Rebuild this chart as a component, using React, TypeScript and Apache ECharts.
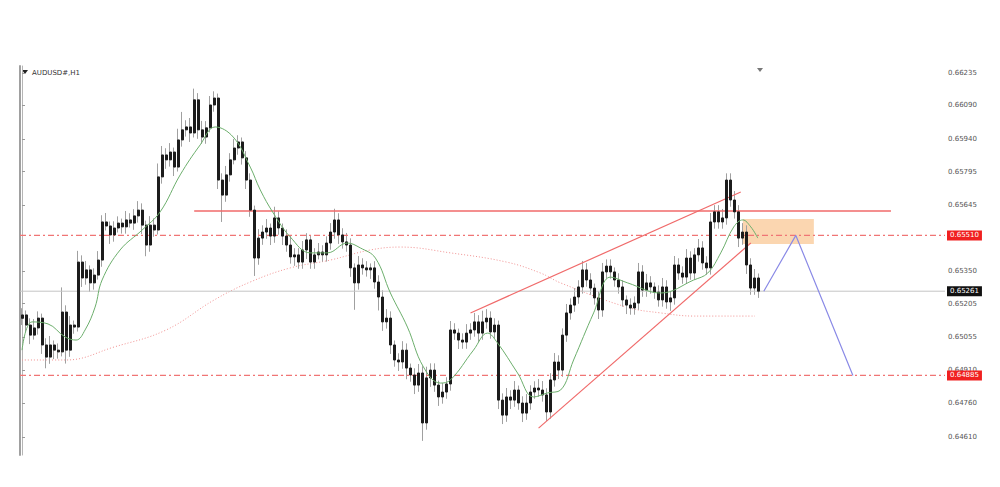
import React, { useEffect, useRef } from "react";
import * as echarts from "echarts";

// ---- Data (AUDUSD#, H1) ----
const symbolLabel = "AUDUSD#,H1";
const firstOpen = 0.6514;
const closes = [
  0.65155, 0.6511, 0.65065, 0.65097, 0.65141, 0.65021, 0.64967, 0.65021, 0.64998, 0.6499,
  0.65168, 0.64998, 0.6511, 0.65101, 0.65391, 0.6532, 0.65356, 0.65298, 0.65333, 0.654,
  0.6557, 0.65552, 0.65512, 0.65543, 0.65565, 0.65548, 0.65579, 0.65565, 0.65597, 0.65623,
  0.65556, 0.65467, 0.65556, 0.65534, 0.65771, 0.65869, 0.65847, 0.65882, 0.65815, 0.65936,
  0.65981, 0.65994, 0.65967, 0.66115, 0.65981, 0.65949, 0.6599, 0.66092, 0.66123, 0.65757,
  0.6569, 0.6578, 0.65847, 0.659, 0.65927, 0.65856, 0.65757, 0.65623, 0.65409, 0.65498,
  0.65525, 0.65543, 0.65507, 0.65588, 0.65543, 0.65507, 0.65467, 0.65414, 0.65423, 0.65391,
  0.65445, 0.6549, 0.65391, 0.65423, 0.65436, 0.65423, 0.65476, 0.65525, 0.65579, 0.65512,
  0.65481, 0.65467, 0.65365, 0.65298, 0.65378, 0.65365, 0.65356, 0.65365, 0.65302, 0.65235,
  0.65124, 0.65141, 0.65021, 0.64954, 0.64945, 0.64998, 0.64918, 0.64887, 0.64842, 0.64896,
  0.64673, 0.64874, 0.64909, 0.64842, 0.64789, 0.64811, 0.64847, 0.65088, 0.65074, 0.65043,
  0.65034, 0.65074, 0.65088, 0.65124, 0.65074, 0.65124, 0.65141, 0.65079, 0.6511, 0.64775,
  0.64708, 0.64789, 0.64775, 0.6482, 0.64762, 0.64717, 0.64762, 0.64811, 0.64829, 0.6482,
  0.64798, 0.64722, 0.64865, 0.64945, 0.64909, 0.65065, 0.65164, 0.65199, 0.65235, 0.6528,
  0.65356, 0.65311, 0.65275, 0.65231, 0.65177, 0.65347, 0.65373, 0.65347, 0.65311, 0.6528,
  0.65222, 0.65199, 0.65186, 0.65208, 0.65347, 0.65266, 0.65298, 0.6528, 0.65257, 0.65222,
  0.6528, 0.65213, 0.65231, 0.65378, 0.65342, 0.65324, 0.65409, 0.65342, 0.65423, 0.65454,
  0.65387, 0.65365, 0.6557, 0.65615, 0.6557, 0.65588, 0.65757, 0.65668, 0.65615, 0.65498,
  0.65525, 0.65378, 0.65275, 0.6532, 0.65261,
];
// wick lengths beyond the body, in pips
const wickUp = [
  3, 2, 3, 4, 3, 2, 3, 4, 2, 3,
  11, 3, 4, 2, 5, 3, 4, 2, 3, 4,
  3, 4, 2, 3, 3, 2, 4, 3, 3, 4,
  3, 2, 4, 3, 6, 4, 3, 4, 2, 5,
  8, 3, 4, 5, 3, 4, 3, 4, 3, 2,
  3, 4, 3, 4, 3, 2, 3, 3, 2, 4,
  3, 4, 2, 5, 3, 2, 3, 4, 3, 3,
  4, 3, 2, 3, 4, 3, 3, 4, 5, 3,
  3, 4, 3, 2, 4, 3, 3, 2, 3, 3,
  3, 4, 3, 2, 3, 4, 3, 2, 3, 4,
  3, 5, 3, 3, 2, 4, 3, 4, 3, 2,
  3, 4, 3, 4, 3, 5, 4, 3, 3, 2,
  3, 4, 3, 4, 2, 3, 4, 3, 3, 4,
  4, 3, 3, 4, 3, 3, 4, 3, 4, 3,
  4, 3, 3, 2, 3, 4, 3, 3, 2, 3,
  3, 2, 3, 3, 4, 3, 4, 3, 2, 3,
  4, 3, 3, 4, 3, 3, 4, 3, 3, 4,
  3, 3, 4, 3, 3, 4, 3, 3, 4, 3,
  4, 3, 3, 4, 2,
];
const wickDown = [
  3, 3, 4, 2, 3, 4, 5, 3, 4, 3,
  2, 6, 3, 3, 2, 4, 3, 4, 3, 2,
  3, 2, 4, 3, 2, 3, 3, 2, 3, 3,
  4, 5, 3, 3, 2, 3, 4, 3, 4, 2,
  3, 3, 4, 2, 4, 3, 3, 2, 3, 4,
  12, 3, 3, 2, 3, 3, 4, 3, 8, 3,
  3, 3, 4, 3, 3, 4, 3, 3, 4, 3,
  3, 4, 3, 3, 2, 3, 3, 3, 3, 4,
  3, 3, 4, 12, 3, 3, 3, 4, 3, 6,
  4, 3, 4, 3, 4, 3, 5, 3, 4, 3,
  8, 3, 4, 3, 4, 3, 3, 3, 3, 4,
  3, 3, 3, 3, 4, 3, 3, 3, 3, 4,
  4, 3, 4, 3, 3, 4, 3, 3, 3, 3,
  3, 4, 3, 3, 4, 3, 3, 3, 3, 3,
  3, 3, 3, 3, 4, 3, 3, 3, 3, 3,
  3, 4, 3, 3, 3, 3, 3, 3, 3, 3,
  3, 3, 4, 3, 3, 3, 3, 3, 3, 3,
  3, 3, 3, 3, 3, 3, 3, 3, 3, 4,
  3, 4, 3, 3, 3,
];
const slotCount = 231; // bar slots on the time axis (incl. empty shift area)
const priceMin = 0.6453;
const priceMax = 0.66266;
const priceTicks = [0.66235, 0.6609, 0.6594, 0.65795, 0.65645, 0.6535, 0.65205, 0.65055, 0.6491, 0.6476, 0.6461];

// moving averages: [bar index, price]
const fastMA = [
  [0, 0.64998], [2.5, 0.65124], [6.5, 0.65115], [10.75, 0.65057], [13.5, 0.65043], [15.75, 0.65088],
  [18.25, 0.6519], [20, 0.65311], [24.5, 0.65445], [30, 0.65534], [34.5, 0.65615], [39.5, 0.6578],
  [44.5, 0.65914], [48.25, 0.65994], [52.75, 0.65949], [57, 0.65815], [59.5, 0.65713], [62.75, 0.6561],
  [67, 0.65503], [72, 0.65432], [76.25, 0.65432], [81.25, 0.65476], [84.5, 0.65454], [88.25, 0.65409],
  [92, 0.65253], [96.25, 0.65101], [100.25, 0.64923], [104.5, 0.64851], [107, 0.64865], [112.75, 0.64998],
  [116.25, 0.65074], [118.75, 0.6503], [123.75, 0.64896], [127.75, 0.64789], [131.25, 0.64807], [134.5, 0.6482],
  [137.75, 0.64954], [142.75, 0.65164], [147, 0.65324], [151.25, 0.65298], [159.5, 0.65253], [167.75, 0.65311],
  [171.25, 0.65342], [174.5, 0.65432], [177.75, 0.65548], [180, 0.65579], [182, 0.65548], [183.75, 0.65498],
];
const slowMA = [
  [0, 0.64954], [11, 0.64954], [23, 0.65012], [36, 0.65088], [48, 0.65222], [57, 0.65302], [67, 0.65365],
  [77, 0.654], [87, 0.65445], [94.5, 0.65458], [107, 0.65432], [121, 0.65391], [129.5, 0.65342],
  [134.5, 0.65298], [151, 0.6519], [159.5, 0.65164], [168, 0.6515], [183, 0.6515],
];

// drawn objects
const resistanceLine = [[43, 0.65619], [217, 0.65619]];
const wedgeUpper = [[112, 0.65164], [179.5, 0.65704]];
const wedgeLower = [[129, 0.6465], [182, 0.65476]];
const supplyZone = [[180, 0.65583], [197.75, 0.65472]];
const projection = [[185.25, 0.65261], [193.25, 0.6551], [207.5, 0.64885]];
const levelUpper = 0.6551;
const levelLower = 0.64885;
const lastPrice = 0.65261;

const pip = 0.0001;

export default function App() {
  const ref = useRef<HTMLDivElement>(null);
  useEffect(() => {
    if (!ref.current) return;
    const chart = echarts.init(ref.current, undefined, { renderer: "svg" });
    const opens = closes.map((c, i) => (i === 0 ? firstOpen : closes[i - 1]));
    const full = closes.map((c, i) => {
      const o = opens[i];
      return [o, c, Math.min(o, c) - wickDown[i] * pip, Math.max(o, c) + wickUp[i] * pip];
    });
    const bodies = closes.map((c, i) => {
      const o = opens[i];
      return [o, c, Math.min(o, c), Math.max(o, c)];
    });
    const categories = Array.from({ length: slotCount }, (_, i) => String(i));
    const xFrom = -0.5;
    const xTo = slotCount - 0.5;
    const font = "DejaVu Sans";
    const priceLabel = (bg: string) => ({
      show: true,
      position: "end",
      distance: 2,
      formatter: (p: any) => Number(p.value).toFixed(5),
      backgroundColor: bg,
      color: "#ffffff",
      fontSize: 7,
      fontFamily: font,
      padding: [2, 3, 1, 3],
    });
    const levelSeries = (name: string, price: number, color: string, dash: any, width: number) => ({
      type: "line",
      name,
      xAxisIndex: 1,
      data: [[xFrom, price], [xTo, price]],
      symbol: "none",
      color,
      itemStyle: { color },
      lineStyle: { color, width, type: dash, opacity: 1 },
      z: 4,
    });
    chart.setOption({
      animation: false,
      backgroundColor: "#ffffff",
      grid: { left: 20, right: 55, top: 66, bottom: 32 },
      xAxis: [
        { type: "category", data: categories, boundaryGap: true, show: false },
        { type: "value", min: xFrom, max: xTo, show: false },
      ],
      yAxis: [
        {
          type: "value",
          position: "right",
          min: priceMin,
          max: priceMax,
          splitLine: { show: false },
          axisLine: { show: true, lineStyle: { color: "#b5b5b5", width: 1 } },
          axisTick: { show: true, customValues: priceTicks, length: 3, lineStyle: { color: "#999" } },
          axisLabel: {
            customValues: priceTicks,
            formatter: (v: number) => v.toFixed(5),
            fontSize: 7,
            fontFamily: font,
            color: "#555",
            margin: 3,
          },
        },
        {
          type: "value",
          position: "left",
          min: priceMin,
          max: priceMax,
          splitLine: { show: false },
          axisLine: { show: true, lineStyle: { color: "#a0a0a0", width: 2 } },
          axisTick: { show: false },
          axisLabel: { show: false },
        },
      ],
      graphic: [
        { type: "polygon", shape: { points: [[22, 70], [28, 70], [25, 74]] }, style: { fill: "#222" } },
        {
          type: "text",
          x: 32,
          y: 69,
          style: { text: symbolLabel, fontSize: 7, fontFamily: font, fill: "#333" },
        },
        { type: "polygon", shape: { points: [[757, 68], [763, 68], [760, 72]] }, style: { fill: "#777" } },
      ],
      series: [
        levelSeries("upper level", levelUpper, "#f07575", [6, 3, 2, 3], 1.2),
        levelSeries("lower level", levelLower, "#f07575", [6, 3, 2, 3], 1.2),
        levelSeries("last price", lastPrice, "#c4c4c4", "solid", 1),
        {
          type: "candlestick",
          name: "wicks",
          data: full,
          barWidth: 1,
          itemStyle: { color: "#a0a0a0", color0: "#a0a0a0", borderColor: "#a0a0a0", borderColor0: "#a0a0a0", borderWidth: 1 },
          z: 3,
        },
        {
          type: "candlestick",
          name: "bodies",
          data: bodies,
          barWidth: 2.5,
          itemStyle: { color: "#1c1c1c", color0: "#1c1c1c", borderColor: "#1c1c1c", borderColor0: "#1c1c1c", borderWidth: 1 },
          z: 5,
        },
        {
          type: "line",
          name: "price tags",
          xAxisIndex: 1,
          data: [],
          symbol: "none",
          z: 7,
          markLine: {
            silent: true,
            precision: 5,
            symbol: ["none", "none"],
            lineStyle: { color: "rgba(0,0,0,0)", width: 1 },
            data: [
              { yAxis: levelUpper, label: priceLabel("#f02020") },
              { yAxis: levelLower, label: priceLabel("#f02020") },
              { yAxis: lastPrice, label: priceLabel("#111111") },
            ],
          },
        },
        {
          type: "line",
          name: "slow MA",
          xAxisIndex: 1,
          data: slowMA,
          smooth: 0.4,
          symbol: "none",
          lineStyle: { color: "#f09090", width: 1, type: [1, 2] },
          z: 2,
        },
        {
          type: "line",
          name: "fast MA",
          xAxisIndex: 1,
          data: fastMA,
          smooth: 0.4,
          symbol: "none",
          lineStyle: { color: "#6cae6c", width: 1 },
          z: 6,
        },
        {
          type: "line",
          name: "resistance",
          xAxisIndex: 1,
          data: resistanceLine,
          symbol: "none",
          lineStyle: { color: "#f06a6a", width: 1.5 },
          z: 4,
        },
        {
          type: "line",
          name: "wedge upper",
          xAxisIndex: 1,
          data: wedgeUpper,
          symbol: "none",
          lineStyle: { color: "#f06a6a", width: 1.2 },
          z: 4,
        },
        {
          type: "line",
          name: "wedge lower",
          xAxisIndex: 1,
          data: wedgeLower,
          symbol: "none",
          lineStyle: { color: "#f06a6a", width: 1.2 },
          z: 4,
        },
        {
          type: "line",
          name: "projection",
          xAxisIndex: 1,
          data: projection,
          symbol: "none",
          lineStyle: { color: "#8a8ae6", width: 1.2 },
          z: 6,
          markArea: {
            silent: true,
            itemStyle: { color: "rgba(250,200,150,0.75)" },
            data: [[{ coord: supplyZone[0] }, { coord: supplyZone[1] }]],
          },
        },
      ],
    });
    return () => chart.dispose();
  }, []);
  return <div ref={ref} style={{ width: 1000, height: 487, position: "absolute", left: 0, top: 0 }} />;
}
